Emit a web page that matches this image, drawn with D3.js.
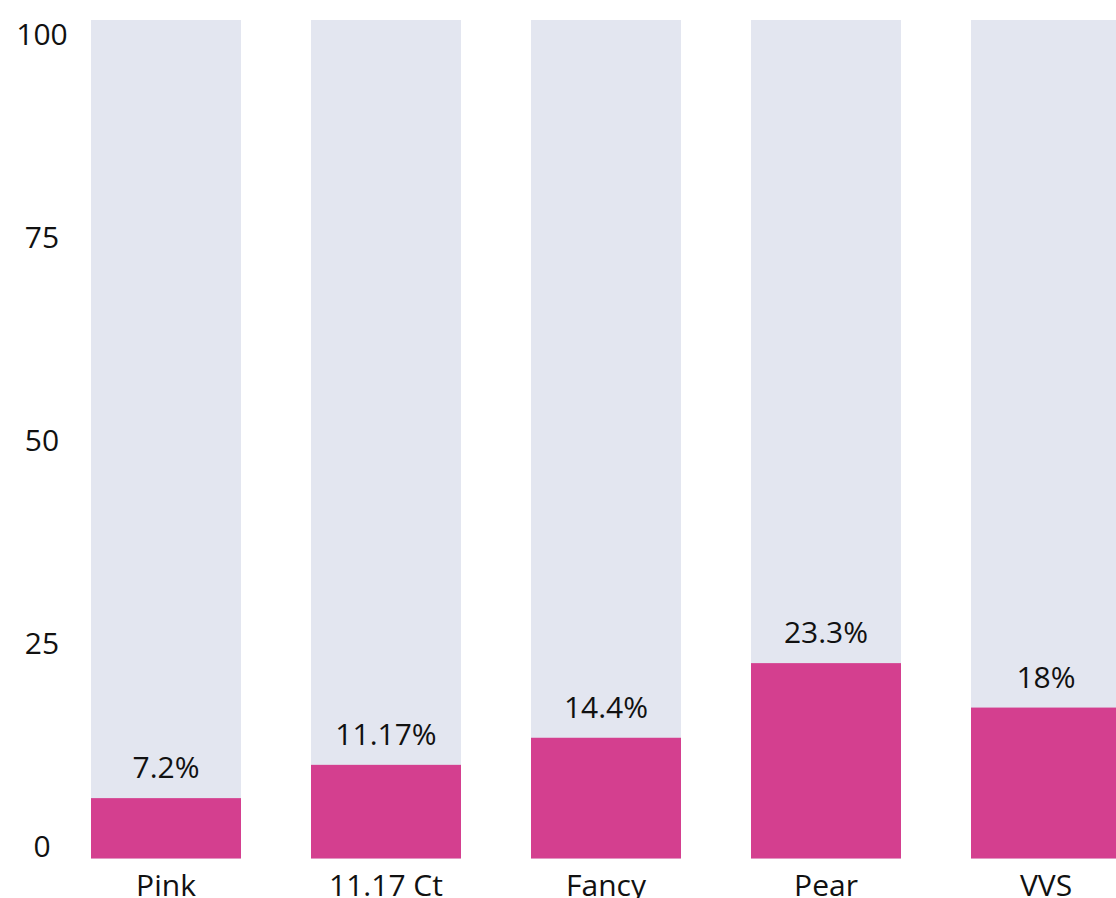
<!DOCTYPE html>
<html>
<head>
<meta charset="utf-8">
<script src="https://cdn.jsdelivr.net/npm/d3@7"></script>
<style>
  body { margin: 0; background: #fff; }
  svg text { font-family: "Open Sans", sans-serif; fill: #111; }
</style>
</head>
<body>
<div id="chart"></div>
<script>
const categories = ["Pink", "11.17 Ct", "Fancy", "Pear", "VVS"];
const values = [7.2, 11.17, 14.4, 23.3, 18];
const valueLabels = ["7.2%", "11.17%", "14.4%", "23.3%", "18%"];
const yTicks = [0, 25, 50, 75, 100];

const W = 1116, H = 898;

const svg = d3.select("#chart").append("svg")
    .attr("width", W)
    .attr("height", H);

const x = d3.scaleBand()
    .domain(categories)
    .range([91, 1121])
    .paddingInner(70 / 220)
    .paddingOuter(0);

const y = d3.scaleLinear().domain([0, 100]).range([858.5, 20]);

// tick labels sit on their own slightly tighter scale
const yLab = d3.scaleLinear().domain([0, 100]).range([846, 34]);

// background bars (100%)
svg.selectAll("rect.bg")
    .data(categories)
    .enter().append("rect")
    .attr("class", "bg")
    .attr("x", d => x(d))
    .attr("y", y(100))
    .attr("width", x.bandwidth())
    .attr("height", y(0) - y(100))
    .attr("fill", "#e3e6f0");

// value bars
svg.selectAll("rect.val")
    .data(values)
    .enter().append("rect")
    .attr("class", "val")
    .attr("x", (d, i) => x(categories[i]))
    .attr("y", d => y(d))
    .attr("width", x.bandwidth())
    .attr("height", d => y(0) - y(d))
    .attr("fill", "#d43f8f");

// value labels
svg.selectAll("text.val")
    .data(values)
    .enter().append("text")
    .attr("class", "val")
    .attr("x", (d, i) => x(categories[i]) + x.bandwidth() / 2)
    .attr("y", d => y(d) - 20)
    .attr("text-anchor", "middle")
    .style("font-size", "30px")
    .style("font-weight", 500)
    .text((d, i) => valueLabels[i]);

// y axis labels
svg.selectAll("text.ytick")
    .data(yTicks)
    .enter().append("text")
    .attr("class", "ytick")
    .attr("x", 42)
    .attr("y", d => yLab(d))
    .attr("dy", "0.35em")
    .attr("text-anchor", "middle")
    .style("font-size", "30px")
    .text(d => d);

// x axis labels
svg.selectAll("text.xtick")
    .data(categories)
    .enter().append("text")
    .attr("class", "xtick")
    .attr("x", d => x(d) + x.bandwidth() / 2)
    .attr("y", 896)
    .attr("text-anchor", "middle")
    .style("font-size", "30px")
    .text(d => d);
</script>
</body>
</html>
